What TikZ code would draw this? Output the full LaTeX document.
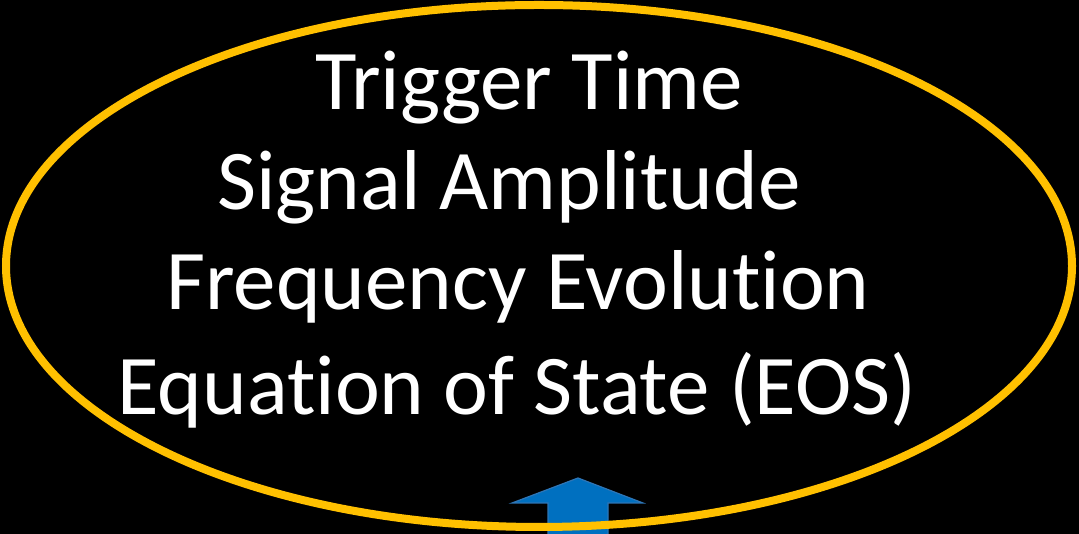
\documentclass[tikz,border=0pt]{standalone}
\usepackage{fontspec}
\setmainfont[Ligatures=CommonOff]{Carlito}
\usetikzlibrary{positioning}

\definecolor{ringgold}{HTML}{FFC000}
\definecolor{arrowblue}{HTML}{0070C0}
\definecolor{arrowedge}{HTML}{2E75B6}

\begin{document}
\begin{tikzpicture}[x=1pt, y=1pt,
    every node/.style={text=white, font=\fontsize{85}{100}\selectfont, inner sep=0pt},
    ring/.style={draw=ringgold, line width=8pt},
    uparrow/.style={fill=arrowblue, draw=arrowedge, line width=1.2pt}]
  % black page
  \fill[black] (0,0) rectangle (1079,534);
  \useasboundingbox (0,0) rectangle (1079,534);

  % arrow coming up into the ellipse
  \draw[uparrow] (548,-2) -- (548,31) -- (512,31) -- (578,56)
    -- (643,31) -- (608,31) -- (608,-2) -- cycle;

  % parameter lines
  \node[anchor=base] (trig) at (529,424) {Trigger Time};
  \node[anchor=base] (amp)  at (509,324) {Signal Amplitude};
  \node[anchor=base] (freq) at (518,224) {Frequency Evolution};
  \node[anchor=base] (eos)  at (517,119) {Equation of State (EOS)};

  % outline
  \draw[ring] (539,268) ellipse [x radius=533, y radius=261];
\end{tikzpicture}
\end{document}
